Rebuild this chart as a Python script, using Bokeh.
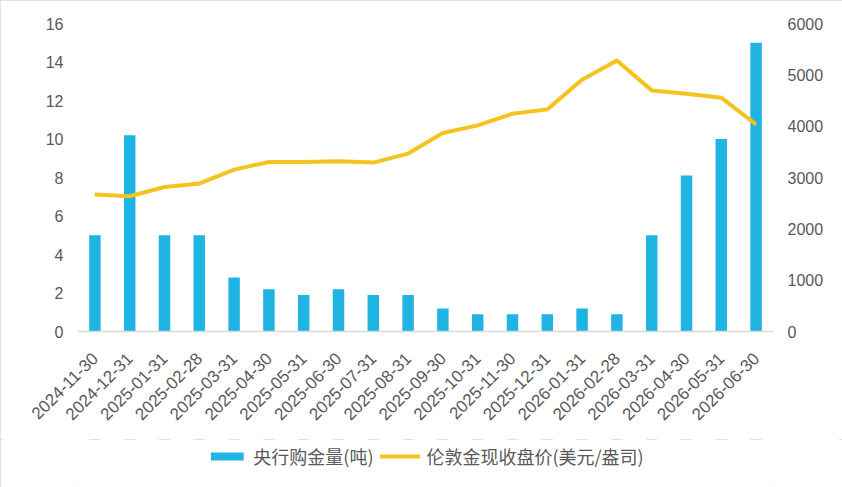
import math
from bokeh.plotting import figure
from bokeh.layouts import column
from bokeh.models import Range1d, LinearAxis, FactorRange, Legend, LegendItem
from bokeh.embed import file_html
from bokeh.resources import INLINE

dates = ["2024-11-30", "2024-12-31", "2025-01-31", "2025-02-28", "2025-03-31",
         "2025-04-30", "2025-05-31", "2025-06-30", "2025-07-31", "2025-08-31",
         "2025-09-30", "2025-10-31", "2025-11-30", "2025-12-31", "2026-01-31",
         "2026-02-28", "2026-03-31", "2026-04-30", "2026-05-31", "2026-06-30"]
purchases = [5, 10.2, 5, 5, 2.8, 2.2, 1.9, 2.2, 1.9, 1.9,
             1.2, 0.9, 0.9, 0.9, 1.2, 0.9, 5, 8.1, 10, 15]
gold_price = [2668, 2635, 2816, 2882, 3154, 3302, 3302, 3316, 3291, 3466,
              3866, 4016, 4243, 4327, 4905, 5280, 4697, 4632, 4555, 4030]
left_ticks = [0, 2, 4, 6, 8, 10, 12, 14, 16]
right_ticks = [0, 1000, 2000, 3000, 4000, 5000, 6000]

bar_label = "央行购金量(吨)"
line_label = "伦敦金现收盘价(美元/盎司)"

BAR_COLOR = "#1FB4E1"
LINE_COLOR = "#F4C320"
TXT = "#595959"
FONT = "Liberation Sans"

p = figure(frame_width=696, frame_height=308, output_backend="svg", toolbar_location=None,
           x_range=FactorRange(factors=dates, range_padding=0),
           y_range=Range1d(0, 16),
           min_border_left=77, min_border_right=69, min_border_top=23,
           min_border_bottom=108)
p.extra_y_ranges = {"price": Range1d(0, 6000)}
p.outline_line_color = None
p.xgrid.grid_line_color = None
p.ygrid.grid_line_color = None
p.background_fill_color = "white"
p.border_fill_color = "white"

bars = p.vbar(x=dates, top=purchases, width=0.33, color=BAR_COLOR, line_color=None)
line = p.line(x=dates, y=gold_price, y_range_name="price", line_width=4,
              line_color=LINE_COLOR, line_join="round")

ya = p.yaxis[0]
ya.ticker = left_ticks
ya.axis_line_color = None
ya.major_tick_line_color = None
ya.minor_tick_line_color = None
ya.major_tick_out = 0
ya.major_tick_in = 0
ya.major_label_text_color = TXT
ya.major_label_text_font = FONT
ya.major_label_text_font_size = "16px"
ya.major_label_standoff = 14

ra = LinearAxis(y_range_name="price", ticker=right_ticks)
ra.axis_line_color = None
ra.major_tick_line_color = None
ra.minor_tick_line_color = None
ra.major_tick_out = 0
ra.major_tick_in = 0
ra.major_label_text_color = TXT
ra.major_label_text_font = FONT
ra.major_label_text_font_size = "16px"
ra.major_label_standoff = 14
p.add_layout(ra, "right")

xa = p.xaxis[0]
xa.axis_line_color = "#D9D9D9"
xa.axis_line_width = 1.5
xa.major_tick_line_color = None
xa.minor_tick_line_color = None
xa.major_tick_out = 0
xa.major_tick_in = 0
xa.major_label_text_color = TXT
xa.major_label_text_font = FONT
xa.major_label_text_font_size = "17px"
xa.major_label_orientation = math.pi / 4
xa.major_label_standoff = 24

# legend strip below the chart: same series, drawn outside its visible range
lg = figure(width=842, height=48, output_backend="svg", toolbar_location=None,
            x_range=FactorRange(factors=dates, range_padding=0),
            y_range=Range1d(-2, -1),
            x_axis_type=None, y_axis_type=None, min_border=0)
lg.outline_line_color = None
lg.xgrid.grid_line_color = None
lg.ygrid.grid_line_color = None
lg.background_fill_color = "white"
lg.border_fill_color = "white"
lg_bar = lg.vbar(x=dates, top=purchases, width=0.33, color=BAR_COLOR, line_color=None)
lg_line = lg.line(x=dates, y=gold_price, line_width=4, line_color=LINE_COLOR)

legend = Legend(items=[LegendItem(label=bar_label, renderers=[lg_bar]),
                       LegendItem(label=line_label, renderers=[lg_line])],
                orientation="horizontal", location="top_center")
legend.border_line_color = None
legend.background_fill_alpha = 0
legend.label_text_font = "Noto Sans CJK SC"
legend.label_text_font_size = "18px"
legend.label_text_color = TXT
legend.label_height = 22
legend.glyph_width = 41
legend.glyph_height = 10
legend.label_standoff = 6
legend.spacing = 6
legend.padding = 0
legend.margin = 4
lg.add_layout(legend, "center")

layout = column(p, lg, spacing=0, width=842, height=487)
layout.styles = {"outline": "3px solid #d9d9d9", "outline-offset": "-3px"}

open("out.html", "w").write(file_html(layout, INLINE))
